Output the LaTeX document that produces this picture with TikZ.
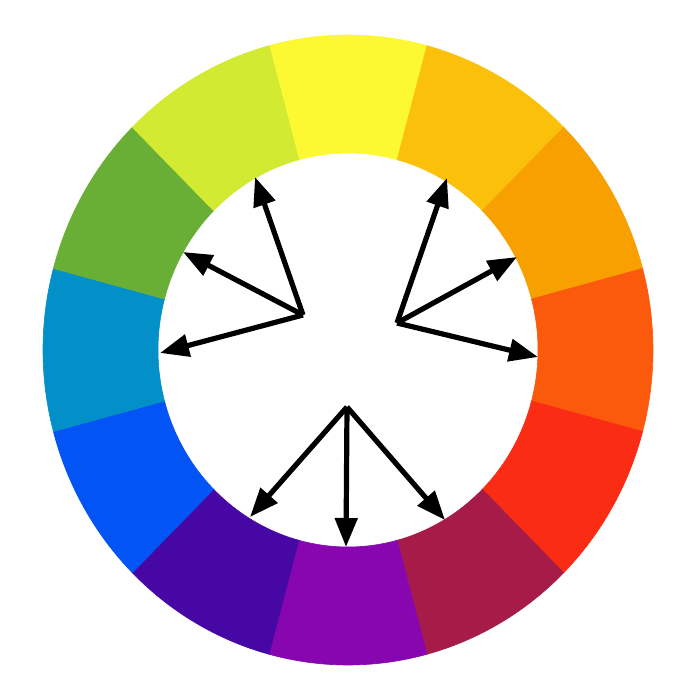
\documentclass[tikz,border=0pt]{standalone}
\usetikzlibrary{arrows.meta}
\definecolor{c90}{RGB}{252,248,50}
\definecolor{c60}{RGB}{251,193,10}
\definecolor{c30}{RGB}{248,160,0}
\definecolor{c0}{RGB}{251,90,12}
\definecolor{cm30}{RGB}{251,44,20}
\definecolor{cm60}{RGB}{166,27,71}
\definecolor{cm90}{RGB}{135,6,176}
\definecolor{cm120}{RGB}{71,7,165}
\definecolor{cm150}{RGB}{2,84,245}
\definecolor{c180}{RGB}{3,144,201}
\definecolor{c150}{RGB}{105,175,54}
\definecolor{c120}{RGB}{210,234,50}
\begin{document}
\begin{tikzpicture}[x=1pt,y=1pt,
  arrowline/.style={line width=5.2pt,-{Triangle[length=29pt,width=22pt]}}]
\fill[white] (0,0) rectangle (695,697);
\useasboundingbox (0,0) rectangle (695,697);
\begin{scope}[shift={(348,347)}]
\foreach \a/\c in {90/c90,60/c60,30/c30,0/c0,-30/cm30,-60/cm60,-90/cm90,-120/cm120,-150/cm150,180/c180,150/c150,120/c120}{
  \fill[\c, draw=\c, line width=0.6pt]
    ({305*cos(\a-15)},{315*sin(\a-15)})
    arc[start angle=\a-15, end angle=\a+15, x radius=305, y radius=315]
    -- ({190*cos(\a+15)},{197*sin(\a+15)})
    arc[start angle=\a+15, end angle=\a-15, x radius=190, y radius=197]
    -- cycle;
}
\end{scope}
% group 1
\coordinate (o1) at (303,382);
\coordinate (t1a) at (255,520);
\coordinate (t1b) at (183,445);
\coordinate (t1c) at (160,344);
% group 2
\coordinate (o2) at (397,374);
\coordinate (t2a) at (447,519);
\coordinate (t2b) at (517,440);
\coordinate (t2c) at (538,340);
% group 3
\coordinate (o3) at (347,290);
\coordinate (t3a) at (250,180);
\coordinate (t3b) at (346,150);
\coordinate (t3c) at (445,177);
\foreach \o/\t in {o1/t1a,o1/t1b,o1/t1c,o2/t2a,o2/t2b,o2/t2c,o3/t3a,o3/t3b,o3/t3c}{
  \draw[arrowline] (\o) -- (\t);
}
\end{tikzpicture}
\end{document}
